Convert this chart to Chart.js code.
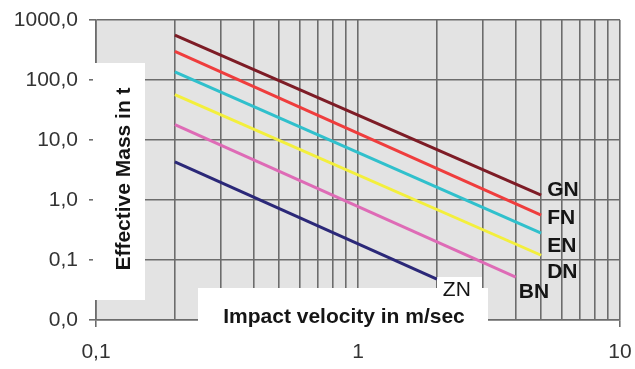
<!DOCTYPE html>
<html>
<head>
<meta charset="utf-8">
<script src="https://cdn.jsdelivr.net/npm/chart.js@4"></script>
<style>
html,body{margin:0;padding:0;background:#fff;}
#wrap{width:635px;height:369px;}
</style>
</head>
<body>
<div id="wrap"><canvas id="c" width="635" height="369"></canvas></div>
<script>
// ---- data ----
const seriesNames = ['GN', 'FN', 'EN', 'DN', 'BN', 'ZN'];
const gnVelocity = [0.2, 5.0];  const gnMass = [560, 1.2];
const fnVelocity = [0.2, 5.0];  const fnMass = [300, 0.56];
const enVelocity = [0.2, 5.0];  const enMass = [137, 0.28];
const dnVelocity = [0.2, 5.0];  const dnMass = [57, 0.12];
const bnVelocity = [0.2, 4.0];  const bnMass = [18, 0.052];
const znVelocity = [0.2, 2.0];  const znMass = [4.3, 0.048];
const xGridValues = [0.1,0.2,0.3,0.4,0.5,0.6,0.7,0.8,0.9,1,2,3,4,5,6,7,8,9,10];
const xLabelValues = [0.1, 1, 10];
const xLabelTexts = ['0,1', '1', '10'];
const yTickValues = [0.01, 0.1, 1, 10, 100, 1000];
const yTickLabels = ['0,0', '0,1', '1,0', '10,0', '100,0', '1000,0'];
const yTitle = 'Effective Mass in t';
const xTitle = 'Impact velocity in m/sec';

// ---- styles ----
const seriesColors = ['#7d1c26', '#ef3d3d', '#30c0cc', '#f3ef3c', '#de6bb6', '#2b2878'];
const labelBold = [true, true, true, true, true, false];
const labelDx = [6, 6, 6, 6, 3, 6];
const labelDy = [1, 9, 19, 23, 21, 17];
const gridColor = '#6c6c6c';
const FONT = "'Liberation Sans', Arial, sans-serif";

const allX = [gnVelocity, fnVelocity, enVelocity, dnVelocity, bnVelocity, znVelocity];
const allY = [gnMass, fnMass, enMass, dnMass, bnMass, znMass];

const datasets = seriesNames.map((n, i) => ({
  label: n,
  data: allX[i].map((x, k) => ({x: x, y: allY[i][k]})),
  borderColor: seriesColors[i],
  backgroundColor: seriesColors[i],
  borderWidth: 3,
  pointRadius: 0,
  fill: false,
  tension: 0
}));

const decorPlugin = {
  id: 'decor',
  beforeDraw(chart) {
    const {ctx, chartArea: a} = chart;
    ctx.save();
    ctx.fillStyle = '#e3e3e3';
    ctx.fillRect(a.left, a.top, a.right - a.left, a.bottom - a.top);
    ctx.restore();
  },
  beforeDatasetsDraw(chart) {
    const ctx = chart.ctx;
    ctx.save();
    ctx.fillStyle = '#ffffff';
    ctx.fillRect(93, 63, 52, 237);      // y-title box
    ctx.fillRect(198, 288, 290, 42);    // x-title box
    ctx.fillRect(437, 277, 45, 12);     // ZN label box
    ctx.restore();
  },
  afterDatasetsDraw(chart) {
    const ctx = chart.ctx;
    const xs = chart.scales.x, ys = chart.scales.y;
    ctx.save();
    ctx.fillStyle = '#151515';
    ctx.textBaseline = 'alphabetic';
    seriesNames.forEach((n, i) => {
      const last = allX[i].length - 1;
      const px = xs.getPixelForValue(allX[i][last]);
      const py = ys.getPixelForValue(allY[i][last]);
      ctx.font = (labelBold[i] ? 'bold ' : '') + '21px ' + FONT;
      ctx.textAlign = 'left';
      ctx.fillText(n, px + labelDx[i], py + labelDy[i]);
    });
    ctx.font = 'bold 21px ' + FONT;
    ctx.textAlign = 'center';
    ctx.fillText(xTitle, 344, 323);
    ctx.translate(130, 179);
    ctx.rotate(-Math.PI / 2);
    ctx.fillText(yTitle, 0, 0);
    ctx.restore();
  }
};

new Chart(document.getElementById('c'), {
  type: 'line',
  data: {datasets},
  plugins: [decorPlugin],
  options: {
    responsive: false,
    devicePixelRatio: 1,
    animation: false,
    layout: {padding: {top: 20, right: 15, left: 0, bottom: 0}},
    plugins: {legend: {display: false}, tooltip: {enabled: false}},
    scales: {
      x: {
        type: 'logarithmic',
        min: 0.1, max: 10,
        afterBuildTicks: s => { s.ticks = xGridValues.map(v => ({value: v})); },
        afterFit: s => { s.height = 49; s.paddingLeft = 0; s.paddingRight = 0; },
        grid: {
          color: gridColor, lineWidth: 1.6, tickLength: 7,
          tickColor: c => (c.tick && (c.tick.value === 0.1 || c.tick.value === 10)) ? gridColor : 'rgba(0,0,0,0)'
        },
        border: {color: gridColor, width: 1.6},
        ticks: {
          autoSkip: false, maxRotation: 0, minRotation: 0, padding: 13,
          color: '#333', font: {family: FONT, size: 21},
          callback: (v, i, t) => {
            const val = t[i].value;
            const j = xLabelValues.findIndex(q => Math.abs(q - val) < 1e-9);
            return j >= 0 ? xLabelTexts[j] : '';
          }
        }
      },
      y: {
        type: 'logarithmic',
        min: 0.01, max: 1000,
        afterBuildTicks: s => { s.ticks = yTickValues.map(v => ({value: v})); },
        afterFit: s => { s.width = 96; s.paddingTop = 0; s.paddingBottom = 0; },
        grid: {color: gridColor, lineWidth: 1.6, tickLength: 7, tickColor: gridColor},
        border: {color: gridColor, width: 1.6},
        ticks: {
          autoSkip: false, padding: 11,
          color: '#333', font: {family: FONT, size: 21},
          callback: (v, i, t) => {
            const val = t[i].value;
            const j = yTickValues.findIndex(q => Math.abs(q - val) < 1e-12);
            return j >= 0 ? yTickLabels[j] : '';
          }
        }
      }
    }
  }
});
</script>
</body>
</html>
